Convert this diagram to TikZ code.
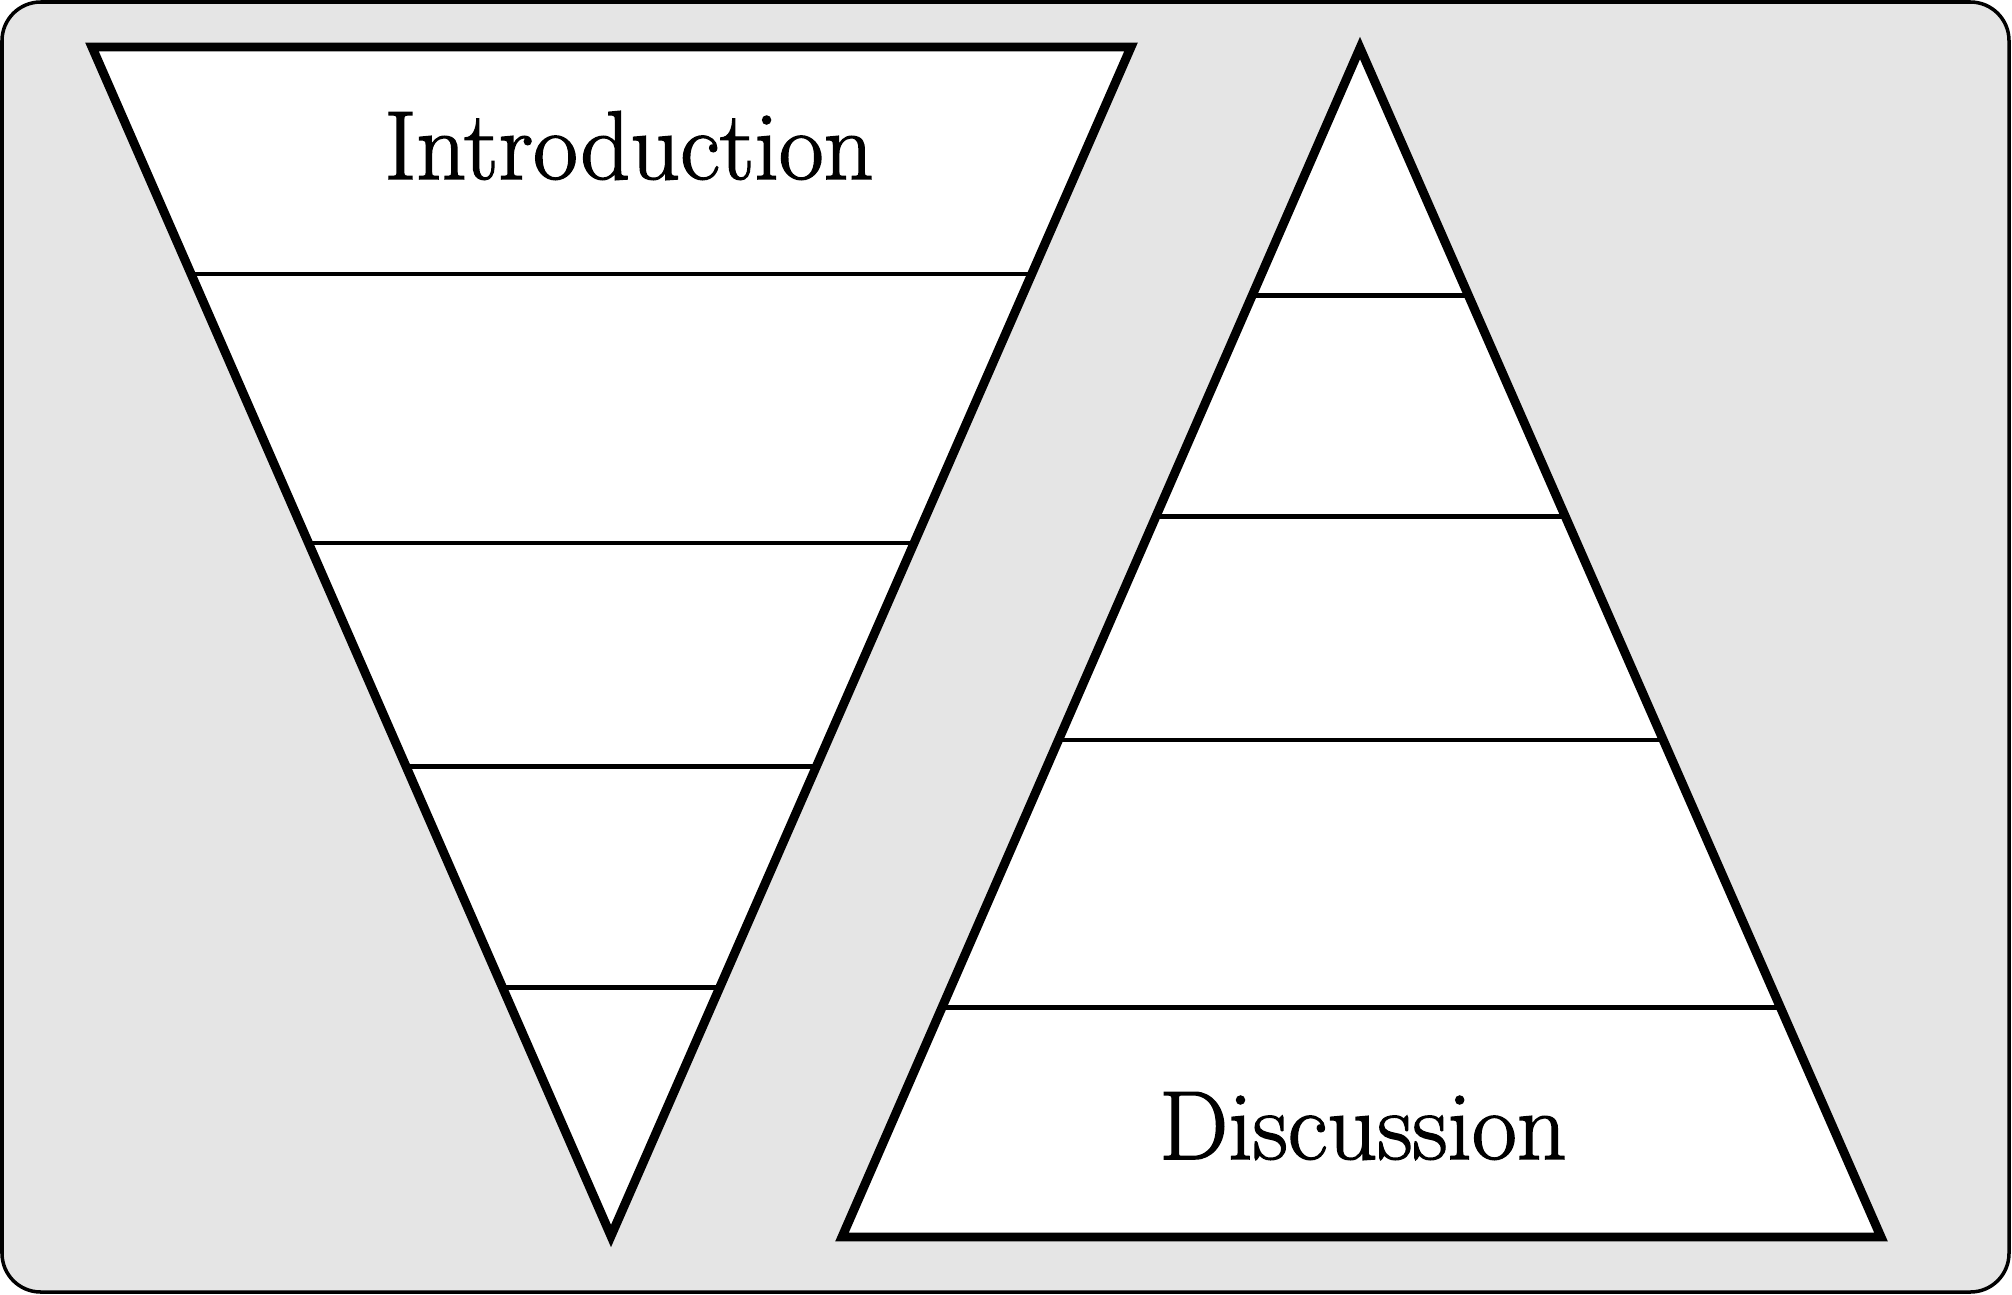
\documentclass[tikz,border=0pt]{standalone}
\usepackage{fontspec}
\newfontfamily\lblfont{lmroman17-regular.otf}[FakeBold=1.5]
\usetikzlibrary{calc}
\begin{document}
\begin{tikzpicture}[x=0.02cm,y=-0.02cm,
  tri/.style={draw=black,line width=5.1pt,line join=miter},
  band/.style={draw=black,line width=2.5pt},
  lbl/.style={font=\lblfont\fontsize{55.6}{60}\selectfont,anchor=base,inner sep=0pt}]
\useasboundingbox (0,0) rectangle (2012,1295);
\draw[fill=black!10,draw=black,line width=2pt,rounded corners=22] (2,2) rectangle (2009,1292);
% left (inverted) triangle
\coordinate (LA) at (92,47);
\coordinate (LB) at (1131,47);
\coordinate (LC) at (611,1236);
\fill[white] (LA) -- (LB) -- (LC) -- cycle;
\foreach \t/\n in {0.191/1,0.417/2,0.605/3,0.791/4}{
  \coordinate (LL\n) at ($(LA)!\t!(LC)$);
  \coordinate (LR\n) at ($(LB)!\t!(LC)$);
  \draw[band] (LL\n) -- (LR\n);
}
\draw[tri] (LA) -- (LB) -- (LC) -- cycle;
% right triangle
\coordinate (RA) at (1360,48);
\coordinate (RB) at (842,1237);
\coordinate (RC) at (1881,1237);
\fill[white] (RA) -- (RB) -- (RC) -- cycle;
\foreach \t/\n in {0.208/1,0.394/2,0.582/3,0.807/4}{
  \coordinate (RL\n) at ($(RA)!\t!(RB)$);
  \coordinate (RR\n) at ($(RA)!\t!(RC)$);
  \draw[band] (RL\n) -- (RR\n);
}
\draw[tri] (RA) -- (RB) -- (RC) -- cycle;
\node[lbl] (intro) at (629,179) {Introduction};
\node[lbl] (disc) at (1363,1159) {Discussion};
\end{tikzpicture}
\end{document}
